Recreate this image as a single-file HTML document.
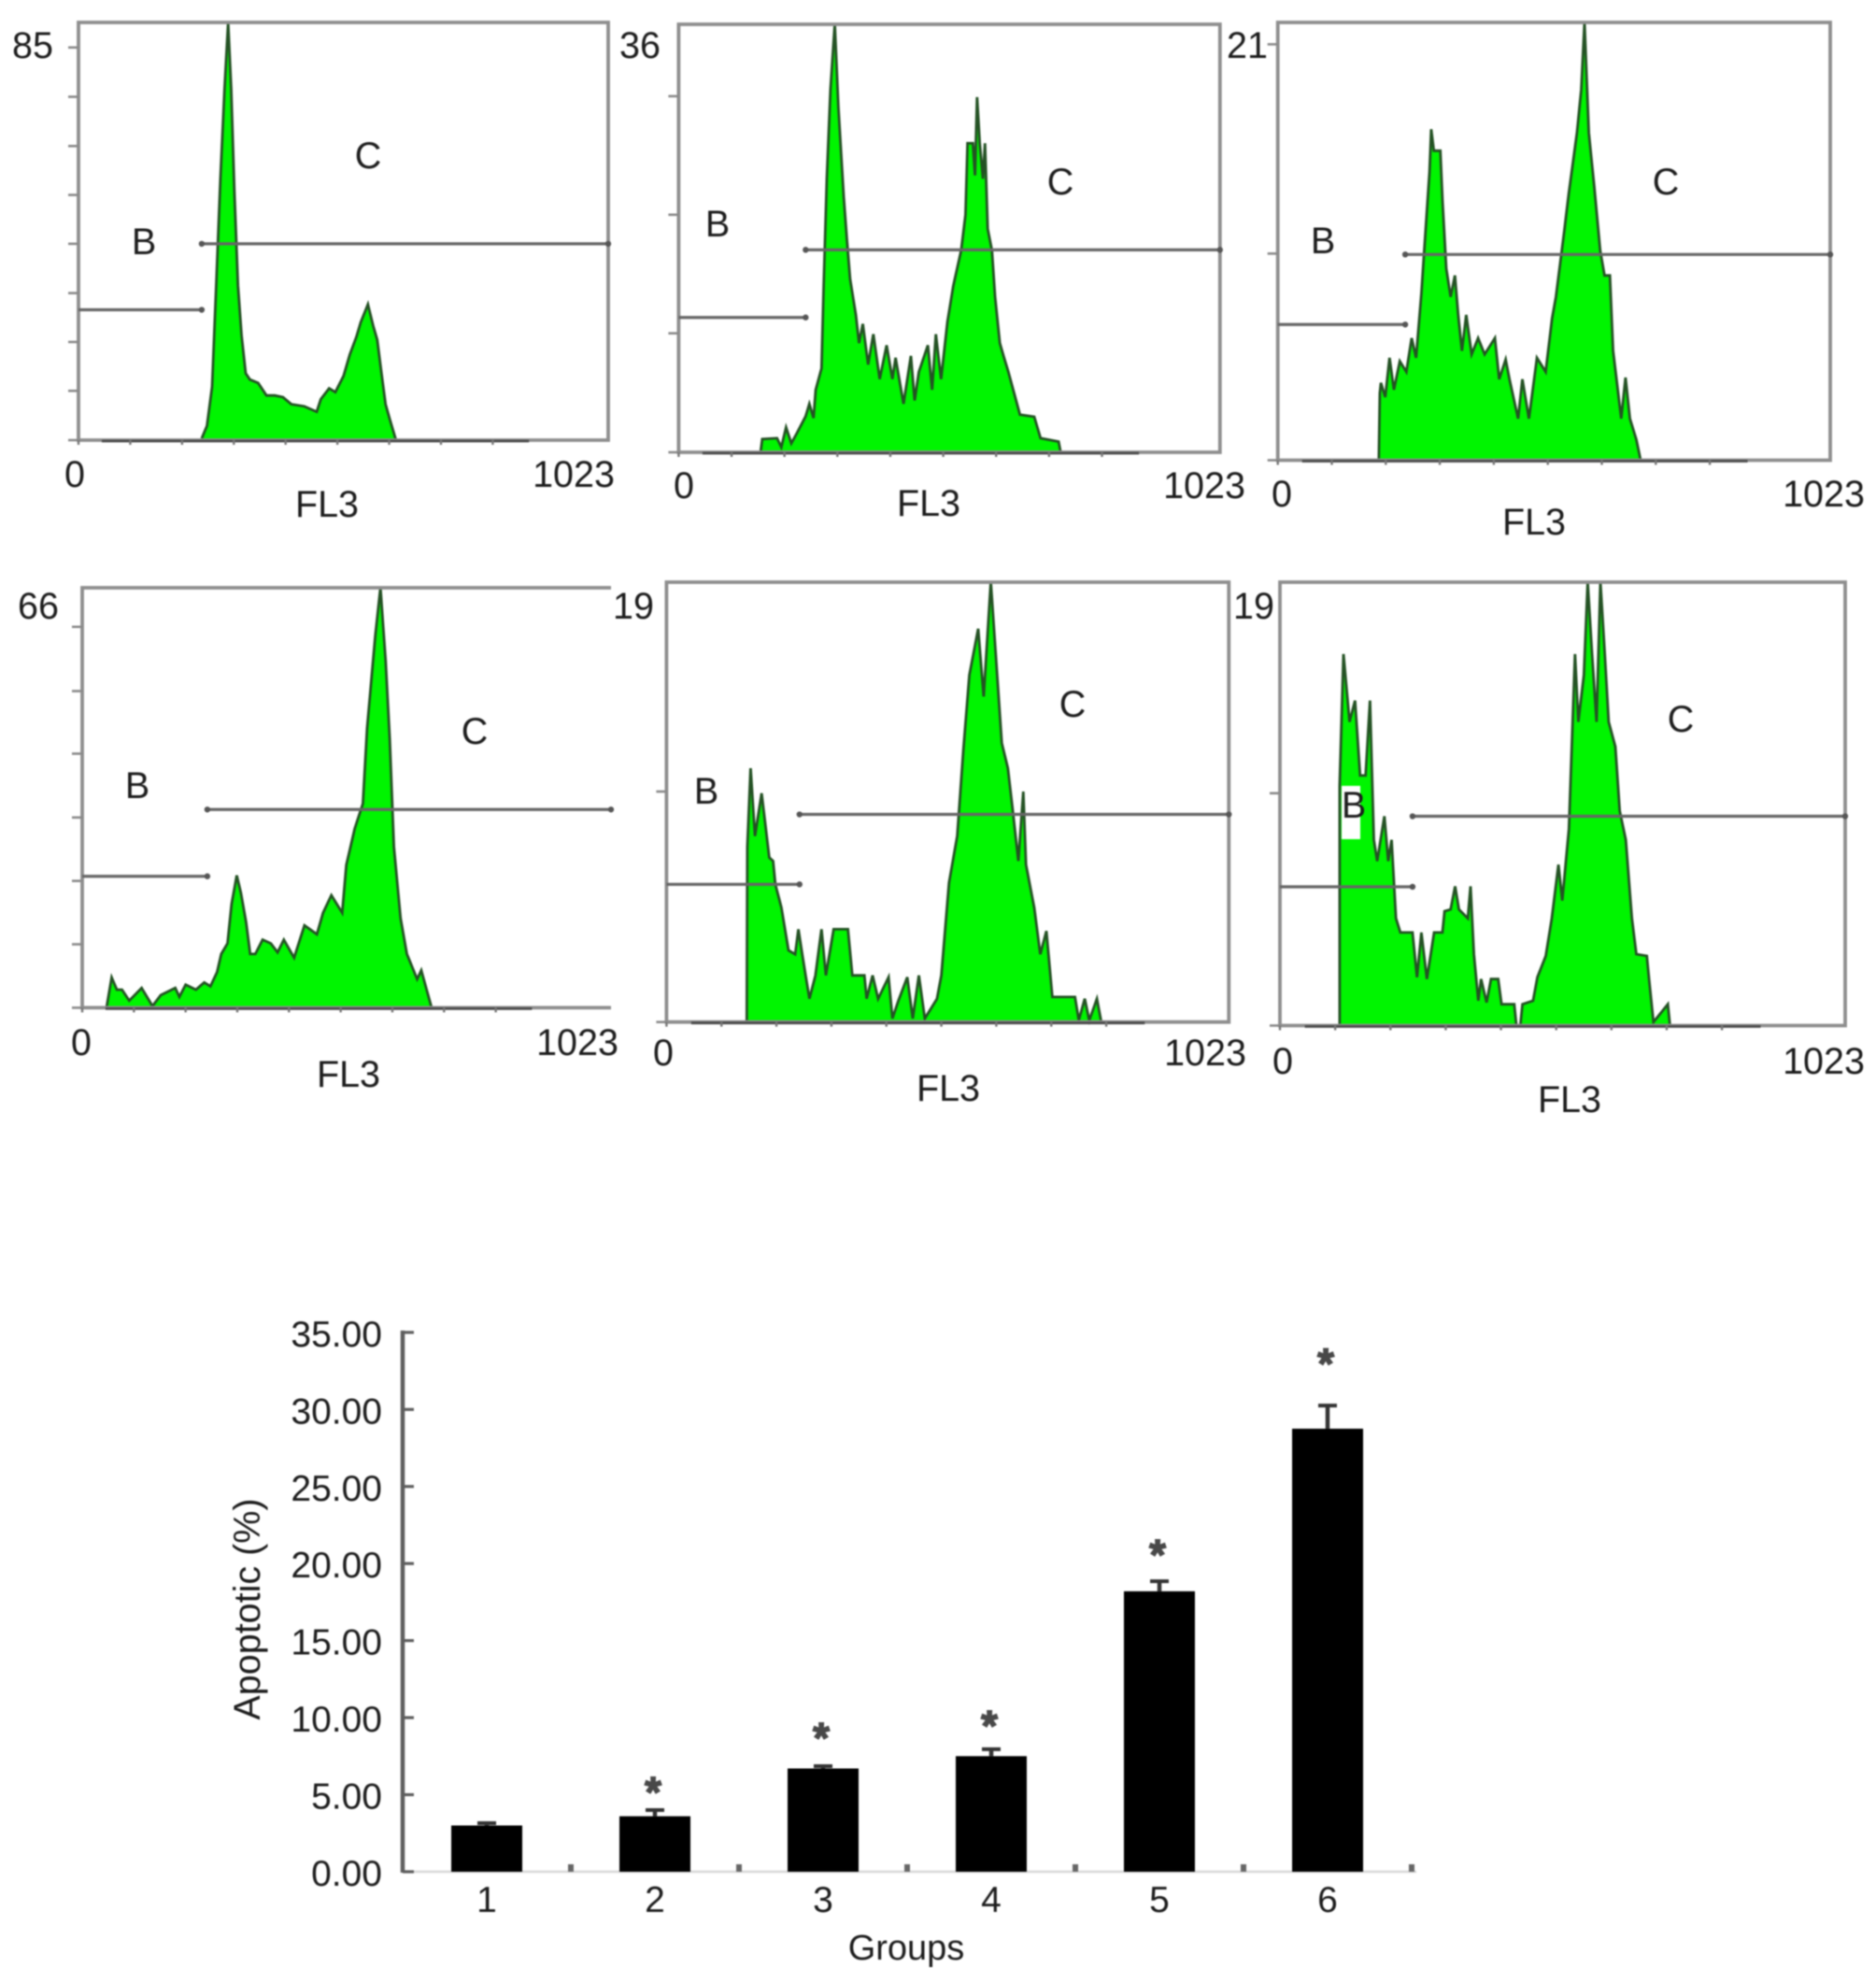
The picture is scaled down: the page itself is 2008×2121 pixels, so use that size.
<!DOCTYPE html>
<html lang="en">
<head>
<meta charset="utf-8">
<title>Flow cytometry histograms and apoptosis bar chart</title>
<style>
html,body{margin:0;padding:0;background:#fff;}
svg{display:block;filter:blur(0.9px);}
text{font-family:"Liberation Sans",Arial,sans-serif;fill:#1c1c1c;}
.lab{font-size:39.5px;text-anchor:middle;}
</style>
</head>
<body>
<svg id="figure" xmlns="http://www.w3.org/2000/svg" width="2008" height="2121" viewBox="0 0 2008 2121">
<rect x="0" y="0" width="2008" height="2121" fill="#ffffff"/>
<g id="histograms"></g>
<g id="panel-labels">
<text class="lab" x="35" y="62">85</text>
<text class="lab" x="154" y="272">B</text>
<text class="lab" x="394" y="180">C</text>
<text class="lab" x="80" y="521">0</text>
<text class="lab" x="614" y="521">1023</text>
<text class="lab" x="350" y="553">FL3</text>

<text class="lab" x="685" y="62">36</text>
<text class="lab" x="768" y="253">B</text>
<text class="lab" x="1135" y="208">C</text>
<text class="lab" x="732" y="533">0</text>
<text class="lab" x="1289" y="533">1023</text>
<text class="lab" x="994" y="552">FL3</text>

<text class="lab" x="1335" y="62">21</text>
<text class="lab" x="1416" y="271">B</text>
<text class="lab" x="1783" y="208">C</text>
<text class="lab" x="1372" y="542">0</text>
<text class="lab" x="1952" y="542">1023</text>
<text class="lab" x="1642" y="572">FL3</text>

<text class="lab" x="41" y="662">66</text>
<text class="lab" x="147" y="854">B</text>
<text class="lab" x="508" y="796">C</text>
<text class="lab" x="87" y="1129">0</text>
<text class="lab" x="618" y="1129">1023</text>
<text class="lab" x="373" y="1163">FL3</text>

<text class="lab" x="678" y="662">19</text>
<text class="lab" x="756" y="860">B</text>
<text class="lab" x="1148" y="767">C</text>
<text class="lab" x="710" y="1140">0</text>
<text class="lab" x="1290" y="1140">1023</text>
<text class="lab" x="1015" y="1178">FL3</text>

<text class="lab" x="1342" y="662">19</text>
<text class="lab" x="1449" y="875">B</text>
<text class="lab" x="1799" y="783">C</text>
<text class="lab" x="1373" y="1149">0</text>
<text class="lab" x="1952" y="1149">1023</text>
<text class="lab" x="1680" y="1190">FL3</text>
</g>
<g id="bar-chart">
<text x="278" y="1722" transform="rotate(-90 278 1722)" text-anchor="middle" font-size="39.5">Apoptotic (%)</text>
<text x="970" y="2097" text-anchor="middle" font-size="38">Groups</text>
</g>
<script>
// ---- Histogram data: FL3 channel (0-1023) and event count (% of full scale) ----
const xTickChannels = [0,100,200,300,400,500,600,700,800];

const panel1Channels = [238,248,258,266,274,282,289,295,301,308,315,323,331,347,363,379,395,411,436,460,468,484,496,512,524,537,545,559,569,577,585,593,601,613];
const panel1Counts = [0.4,3.4,12.8,36.8,62.5,84,100,84,60,37,25,16,14.5,13.7,10.7,10.7,10.3,8.6,8.1,6.8,9.8,12.4,11.5,15.4,20.5,24.8,28.2,32.5,27.4,24,16.2,8.6,5.1,0];
const panel1YTicks = [0,11.8,23.5,35.2,47,58.7,70.4,82.2,94];
const panel1Gates = [238,31.2,47];

const panel2Channels = [155,158,186,194,203,213,224,240,247,255,259,270,274,280,287,295,302,312,318,324,335,341,348,358,368,380,393,404,410,425,439,446,454,471,479,486,496,508,519,534,542,546,556,560,564,569,575,579,584,592,598,607,615,623,634,645,672,684,718,722];
const panel2Counts = [0.2,3.1,3.3,1.2,5.8,2.1,4.6,8.4,11.3,8,14.6,19.6,38.8,63.9,84.8,100,80.6,59.7,49.7,40.5,32.1,25.5,30,20.5,27.6,17.1,25,17.1,22.1,11.3,22.5,12.1,18.8,25,14.6,27.6,17.1,30.5,38.8,47.2,55.5,72.2,72.2,64.7,83,72.2,63.9,72.2,52.2,47.2,36.3,25.5,22.1,18.8,13.8,8.8,8.3,3.3,2.5,0];
const panel2YTicks = [0,27.8,55.5,83.2];
const panel2Gates = [240,31.5,47.3];

const panel3Channels = [187,189,191,199,207,215,226,238,248,256,266,273,281,284,289,301,305,312,320,328,334,341,349,359,371,383,402,410,422,429,445,453,465,480,496,508,515,531,539,554,562,568,576,586,597,605,615,621,636,644,652,664,672];
const panel3Counts = [0,15.3,17.7,14.4,23.4,16.1,22.6,20.2,27.9,23.4,38.1,51.2,65.9,75.6,70.7,70.7,59.3,43.8,37.3,42.2,33.2,25,33.2,24.2,27.9,24.2,27.9,18.5,23,18.5,9.5,18.5,9.5,23.4,20.2,32.4,37.3,52.8,61,74.8,84.6,100,74.8,62.6,47.9,42.2,42.2,25,9.5,18.9,9.5,4.7,0];
const panel3YTicks = [0,47.2,95];
const panel3Gates = [236,31,47];

const panel4Channels = [47,57,67,77,91,115,136,152,180,188,200,220,236,248,261,269,281,289,299,307,317,325,335,349,365,378,390,410,430,454,466,482,503,511,527,543,551,567,577,587,595,603,616,628,648,656,676];
const panel4Counts = [0,7.2,4.3,4.3,1.7,4.7,0.4,3,4.7,2.6,5.5,4.3,6,5.1,8.5,12.8,15.3,24.7,31.5,27.3,20.4,12.8,12.8,16.2,15.3,13.2,16.2,11.9,19.6,17.5,22.6,26.8,22.6,34,42.6,48.6,66.5,88.6,100,82.6,63.9,38.3,21.3,12.8,6.8,8.9,0];
const panel4YTicks = [0,15.1,30.2,45.3,60.5,75.4,90.7];
const panel4Gates = [242,31.3,47.2];

const panel5Channels = [146,147,153,161,173,187,194,198,209,222,234,240,247,253,260,271,282,290,304,330,338,360,364,375,385,404,411,422,438,448,459,470,492,500,514,529,540,551,567,577,590,599,610,621,630,640,649,654,669,680,691,702,743,750,761,769,783,791];
const panel5Counts = [0,39.8,57.7,42.3,52,37.4,36.6,31.3,26,16.3,15.4,21.1,15.4,10.6,5.3,10.6,21.1,10.6,21.1,21.1,10.6,10.6,5.3,10.6,5.3,10.2,0.8,4.9,10.2,0.8,10.6,0.8,5.3,10.6,31.7,42.3,61.8,78.9,89.4,74,100,83.7,63.4,57.7,48,36.6,52.4,35.8,26,15.4,20.7,5.7,5.7,0.4,5.3,0.4,5.3,0];
const panel5YTicks = [0,52.4];
const panel5Gates = [242,31.3,47.2];

const panel6Channels = [108,108,115,126,136,145,155,163,170,176,189,196,202,210,218,240,248,256,266,279,294,298,309,317,324,340,345,351,359,364,374,382,395,401,424,428,435,439,458,466,481,492,504,511,523,534,540,550,557,565,573,580,588,595,607,615,626,637,645,664,668,676,702,706];
const panel6Counts = [0,54,83.8,68.5,73.3,56.4,56.4,73.3,41.9,37.1,47.2,37.1,41.9,24.2,21,21,10.9,21,10.5,21,21,25.8,26.2,31.4,26.2,24.2,31.4,16.1,5.6,10.5,5.2,10.5,10.5,4.8,4.8,0,0,4.8,5.6,10.9,15.7,24.2,36.3,28.2,44.3,83.8,68.5,79,100,83.8,68.5,100,83.8,68.5,62.9,48.4,41.9,24.2,16.1,15.7,10.5,0.8,4.8,0];
const panel6YTicks = [0,52.4];
const panel6Gates = [240,31.3,47.2];

// ---- Bar chart data ----
const groupLabels = ['1','2','3','4','5','6'];
const apoptoticMeans = [3.0,3.6,6.7,7.5,18.2,28.75];
const apoptoticErrorTops = [3.15,4.0,6.85,7.95,18.85,30.25];
const significanceMarkers = [null,5.8,9.3,10.1,21.2,33.6];
const yTickValues = [0,5,10,15,20,25,30,35];
const yTickLabels = ['0.00','5.00','10.00','15.00','20.00','25.00','30.00','35.00'];

const NS = 'http://www.w3.org/2000/svg';
function mk(tag, attrs, parent) {
  const node = document.createElementNS(NS, tag);
  for (const k in attrs) node.setAttribute(k, attrs[k]);
  parent.appendChild(node);
  return node;
}

function drawPanel(p) {
  const root = document.getElementById('histograms');
  const g = mk('g', {}, root);
  
  
  const xs = function (c) { return p.left + c / 1023 * (p.right - p.left); };
  const ys = function (v) { return p.bottom - v / 100 * (p.bottom - p.top); };

  const pts = p.channels.map(function (c, i) { return xs(c).toFixed(1) + ',' + ys(p.counts[i]).toFixed(1); });
  const area = mk('polygon', { points: xs(p.channels[0]).toFixed(1) + ',' + p.bottom + ' ' + pts.join(' ') + ' ' + xs(p.channels[p.channels.length - 1]).toFixed(1) + ',' + p.bottom, fill: '#00f500' }, g);
  
  
  const outline = mk('polyline', { points: pts.join(' '), fill: 'none', stroke: '#245224', 'stroke-width': 2.8, 'stroke-linejoin': 'miter' }, g);
  
  

  if (p.mask) {
    const m = mk('rect', { x: p.mask[0], y: p.mask[1], width: p.mask[2], height: p.mask[3], fill: '#fff' }, g);
    
    
  }

  const d = p.openRight
    ? 'M' + p.right + ' ' + p.top + 'H' + p.left + 'V' + p.bottom + 'H' + p.right
    : 'M' + p.left + ' ' + p.top + 'H' + p.right + 'V' + p.bottom + 'H' + p.left + 'Z';
  const frame = mk('path', { d: d, fill: 'none', stroke: '#8e8e8e', 'stroke-width': 3.8 }, g);
  
  

  const trace = mk('line', { x1: xs(45), x2: xs(870), y1: p.bottom + 1, y2: p.bottom + 1, stroke: '#4a4a4a', 'stroke-width': 2.8 }, g);
  
  

  p.yTicks.forEach(function (v) {
    const t = mk('line', { x1: p.left - 11, x2: p.left, y1: ys(v), y2: ys(v), stroke: '#8a8a8a', 'stroke-width': 2.6 }, g);
    
    
  });
  xTickChannels.forEach(function (c) {
    const t = mk('line', { x1: xs(c), x2: xs(c), y1: p.bottom, y2: p.bottom + 5, stroke: '#777', 'stroke-width': 2.4 }, g);
    
    
  });

  const split = p.gates[0], bH = p.gates[1], cH = p.gates[2];
  const gb = mk('line', { x1: xs(0), x2: xs(split), y1: ys(bH), y2: ys(bH), stroke: '#666', 'stroke-width': 3.2 }, g);
  
  
  const gc = mk('line', { x1: xs(split), x2: xs(1023), y1: ys(cH), y2: ys(cH), stroke: '#666', 'stroke-width': 3.2 }, g);
  
  
  [[split, bH], [split, cH], [1023, cH]].forEach(function (q) {
    const c = mk('circle', { cx: xs(q[0]), cy: ys(q[1]), r: 3.2, fill: '#555' }, g);
    
    
  });
}

drawPanel({ name: 'histogram-panel-1', left: 84, right: 651, top: 24, bottom: 471, channels: panel1Channels, counts: panel1Counts, yTicks: panel1YTicks, gates: panel1Gates });
drawPanel({ name: 'histogram-panel-2', left: 726.4, right: 1305.8, top: 26, bottom: 484, channels: panel2Channels, counts: panel2Counts, yTicks: panel2YTicks, gates: panel2Gates });
drawPanel({ name: 'histogram-panel-3', left: 1367.7, right: 1959, top: 24, bottom: 492.5, channels: panel3Channels, counts: panel3Counts, yTicks: panel3YTicks, gates: panel3Gates });
drawPanel({ name: 'histogram-panel-4', left: 88, right: 654, top: 629, bottom: 1078.4, channels: panel4Channels, counts: panel4Counts, yTicks: panel4YTicks, gates: panel4Gates, openRight: true });
drawPanel({ name: 'histogram-panel-5', left: 713.4, right: 1315.3, top: 623, bottom: 1093.7, channels: panel5Channels, counts: panel5Counts, yTicks: panel5YTicks, gates: panel5Gates });
drawPanel({ name: 'histogram-panel-6', left: 1370, right: 1975, top: 623, bottom: 1097.5, channels: panel6Channels, counts: panel6Counts, yTicks: panel6YTicks, gates: panel6Gates, mask: [1436, 841, 20, 57] });

// ---- Bar chart ----
(function () {
  const g = document.getElementById('bar-chart');
  const axisLeft = 431, axisRight = 1516, y0 = 2003, pxPerUnit = 16.49;
  const firstCenter = 521, step = 180, barW = 76;
  const yScale = function (v) { return y0 - v * pxPerUnit; };
  const xScale = function (i) { return firstCenter + i * step; };

  const xAxis = mk('line', { x1: axisLeft, x2: axisRight, y1: y0, y2: y0, stroke: '#d8d8d8', 'stroke-width': 2.5 }, g);
  
  
  const yAxis = mk('line', { x1: axisLeft, x2: axisLeft, y1: yScale(35) - 2, y2: y0 + 1, stroke: '#5e5e5e', 'stroke-width': 4.5 }, g);
  
  

  yTickValues.forEach(function (v, i) {
    const t = mk('line', { x1: axisLeft, x2: axisLeft + 12, y1: yScale(v), y2: yScale(v), stroke: '#5e5e5e', 'stroke-width': 3.2 }, g);
    
    
    const lab = mk('text', { x: 409, y: yScale(v) + 15, 'text-anchor': 'end', 'font-size': 39 }, g);
    lab.textContent = yTickLabels[i];
    
    
  });

  groupLabels.forEach(function (name, i) {
    const cx = xScale(i);
    const tick = mk('rect', { x: cx + step / 2 - 3, y: y0 - 8, width: 6, height: 8, fill: '#666' }, g);
    
    

    const stem = mk('line', { x1: cx, x2: cx, y1: yScale(apoptoticErrorTops[i]), y2: yScale(apoptoticMeans[i]), stroke: '#333', 'stroke-width': 4.5 }, g);
    
    
    const cap = mk('line', { x1: cx - 10, x2: cx + 10, y1: yScale(apoptoticErrorTops[i]), y2: yScale(apoptoticErrorTops[i]), stroke: '#333', 'stroke-width': 4 }, g);
    
    

    const bar = mk('rect', { x: cx - barW / 2, y: yScale(apoptoticMeans[i]), width: barW, height: y0 - yScale(apoptoticMeans[i]), fill: '#000' }, g);
    
    

    const lab = mk('text', { x: cx, y: 2046, 'text-anchor': 'middle', 'font-size': 39 }, g);
    lab.textContent = name;
    
    

    if (significanceMarkers[i] !== null) {
      const star = mk('text', { x: cx - 2, y: yScale(significanceMarkers[i]) + 25, 'text-anchor': 'middle', 'font-size': 44, style: 'fill:#484848;stroke:#484848;stroke-width:3px' }, g);
      star.textContent = '*';
      
      
    }
  });
})();
</script>
</svg>
</body>
</html>
